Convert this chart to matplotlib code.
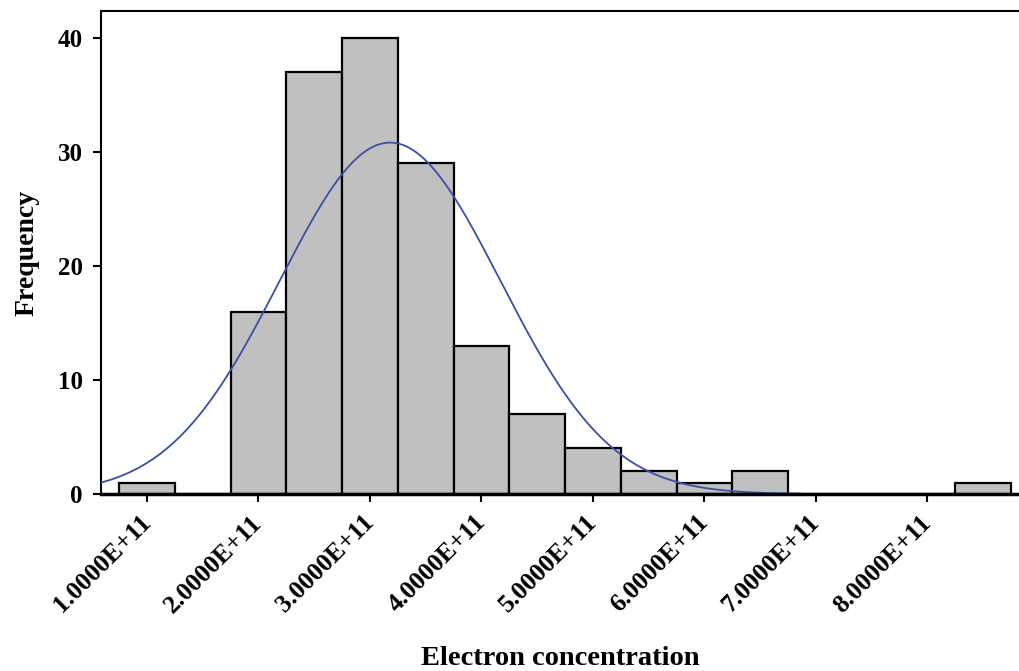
import numpy as np
import matplotlib
matplotlib.use("Agg")
import matplotlib.pyplot as plt
from matplotlib.ticker import FuncFormatter

# Data
bin_centers = [1.0e11, 1.5e11, 2.0e11, 2.5e11, 3.0e11, 3.5e11, 4.0e11, 4.5e11,
               5.0e11, 5.5e11, 6.0e11, 6.5e11, 7.0e11, 7.5e11, 8.0e11, 8.5e11]
counts = [1, 0, 16, 37, 40, 29, 13, 7, 4, 2, 1, 2, 0, 0, 0, 1]
bin_width = 0.5e11
x_ticks = [1e11, 2e11, 3e11, 4e11, 5e11, 6e11, 7e11, 8e11]
y_ticks = [0, 10, 20, 30, 40]
# Fitted normal curve parameters
fit_mean = 3.18e11
fit_sd = 0.99e11
fit_start = 0.55e11
fit_end = 6.86e11

plt.rcParams['font.family'] = ['Liberation Serif', 'DejaVu Serif']
plt.rcParams['font.weight'] = 'bold'

fig = plt.figure(figsize=(10.2, 6.71), dpi=100)
ax = fig.add_axes([101/1020, 1 - 494/671, 1 - 101/1020, (494 - 11)/671])

ax.bar(bin_centers, counts, width=bin_width, color='#c0c0c0', edgecolor='black',
       linewidth=1.6, zorder=2)

n_total = sum(counts)
xs = np.linspace(fit_start, fit_end, 400)
ys = n_total * bin_width / (fit_sd * np.sqrt(2 * np.pi)) * np.exp(-0.5 * ((xs - fit_mean) / fit_sd) ** 2)
ax.plot(xs, ys, color='#3a4fa8', linewidth=1.3, zorder=3)

ax.set_xlim(0.5874e11, 8.83e11)
ax.set_ylim(0, 42.37)
ax.set_xticks(x_ticks)
ax.set_yticks(y_ticks)
ax.xaxis.set_major_formatter(FuncFormatter(lambda v, p: f"{v/1e11:.4f}E+11"))

for lbl in ax.get_xticklabels():
    lbl.set_rotation(45)
    lbl.set_ha('right')
    lbl.set_va('center')
    lbl.set_rotation_mode('anchor')
    lbl.set_fontsize(18.5)
    lbl.set_fontweight('bold')
for lbl in ax.get_yticklabels():
    lbl.set_fontsize(18)
    lbl.set_fontweight('bold')

ax.tick_params(axis='x', length=6, width=1.5, pad=12)
ax.tick_params(axis='y', length=6, width=1.5, pad=7)

ax.spines['right'].set_visible(False)
ax.spines['top'].set_linewidth(1.5)
ax.spines['left'].set_linewidth(1.5)
ax.spines['bottom'].set_linewidth(2.5)
ax.spines['bottom'].set_zorder(4)

ax.set_xlabel('Electron concentration', fontsize=20.5, fontweight='bold', labelpad=21)
ax.set_ylabel('Frequency', fontsize=20, fontweight='bold', labelpad=13)

fig.savefig('out.png', dpi=100)
